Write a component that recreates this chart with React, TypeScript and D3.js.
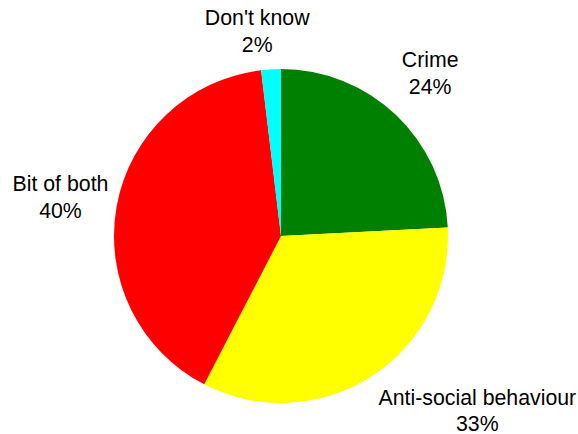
import React from "react";
import * as d3 from "d3";

const categories = ["Crime", "Anti-social behaviour", "Bit of both", "Don't know"];
const values = [24.2, 33.4, 40.5, 1.9];
const percentLabels = ["24%", "33%", "40%", "2%"];
const colors = ["#008000", "#FFFF00", "#FF0000", "#00FFFF"];
// label nudges (layout only)
const labelNudge: [number, number][] = [
  [1, 0],
  [80, 1],
  [-9, 7],
  [-11, 17],
];

const W = 578;
const H = 434;
const CX = 281;
const CY = 236;
const R = 167;
const LABEL_R = 215;

export default function App() {
  const data = categories.map((c, i) => ({ c, v: values[i], i }));
  const pie = d3
    .pie<{ c: string; v: number; i: number }>()
    .value((d) => d.v)
    .sort(null);
  const arcs = pie(data);
  const arc = d3.arc<d3.PieArcDatum<any>>().innerRadius(0).outerRadius(R);
  const labelArc = d3
    .arc<d3.PieArcDatum<any>>()
    .innerRadius(LABEL_R)
    .outerRadius(LABEL_R);

  return (
    <svg
      width={W}
      height={H}
      style={{ position: "absolute", left: 0, top: 0, background: "#fff" }}
      fontFamily="'Liberation Sans', Arial, sans-serif"
    >
      <g transform={`translate(${CX},${CY})`}>
        {arcs.map((a, i) => (
          <path key={i} d={arc(a) || ""} fill={colors[i]} />
        ))}
        {arcs.map((a, i) => {
          const [x, y] = labelArc.centroid(a);
          const lx = x + labelNudge[i][0];
          const ly = y + labelNudge[i][1];
          return (
            <text key={"t" + i} textAnchor="middle" fontSize={21.3} fill="#000">
              <tspan x={lx} y={ly - 13.3}>
                {categories[i]}
              </tspan>
              <tspan x={lx} y={ly + 13.3}>
                {percentLabels[i]}
              </tspan>
            </text>
          );
        })}
      </g>
    </svg>
  );
}
